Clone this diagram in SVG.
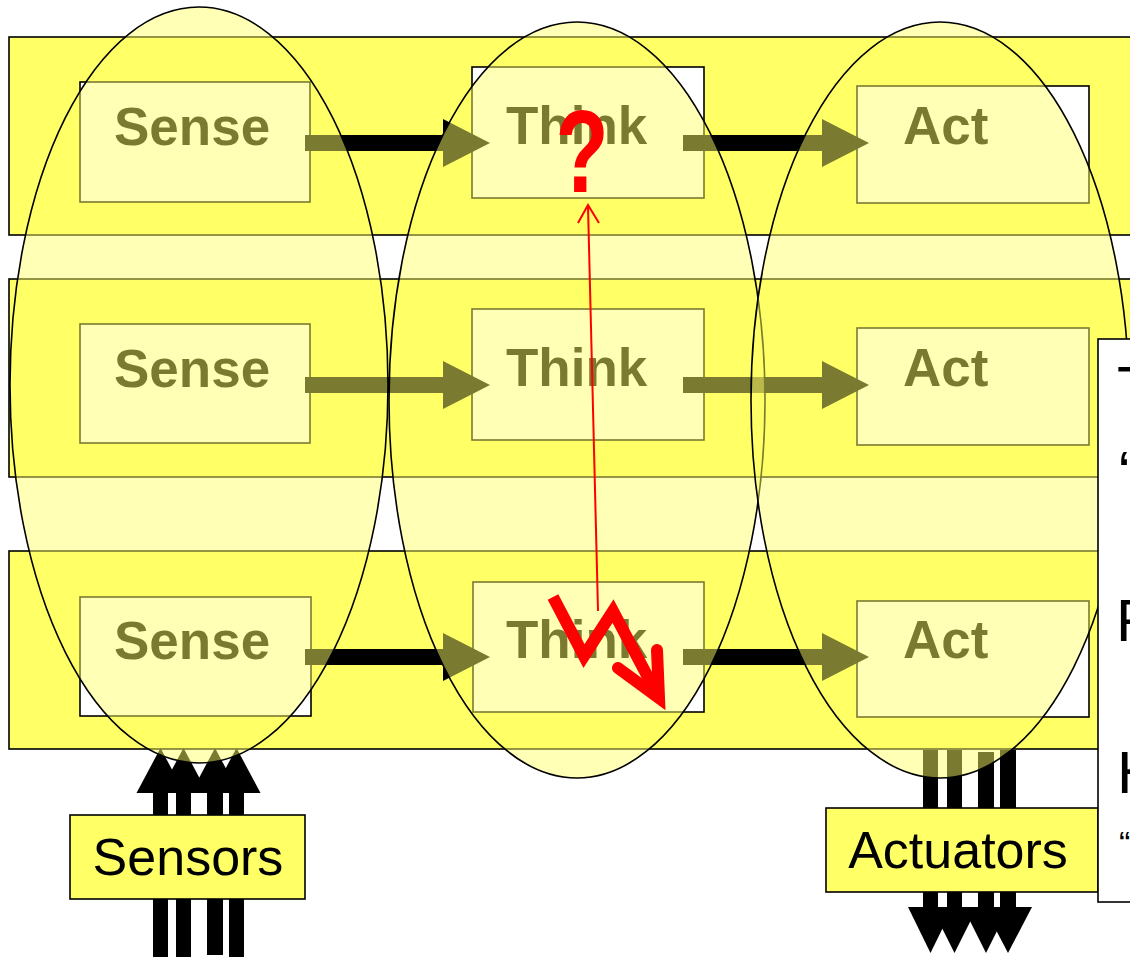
<svg xmlns="http://www.w3.org/2000/svg" width="1130" height="957" viewBox="0 0 1130 957">
<style>
.band{fill:#FFFF66;stroke:#000;stroke-width:1.6}
.box{fill:#fff;stroke:#000;stroke-width:1.6}
.lbl{font-family:"Liberation Sans",Arial,sans-serif;font-weight:bold;font-size:53px;fill:#000}
.arr{fill:#000}
.ell{fill:#FFFF66;fill-opacity:0.48;stroke:#000;stroke-width:1.6}
.io{fill:#FFFF66;stroke:#000;stroke-width:1.6}
.iot{font-family:"Liberation Sans",Arial,sans-serif;font-size:52px;fill:#000;text-anchor:middle}
.panel{fill:#fff;stroke:#000;stroke-width:1.6}
.pt{font-family:"Liberation Sans",Arial,sans-serif;font-size:60px;fill:#000}
.red{fill:none;stroke:#FF0000}
</style>
<rect width="1130" height="957" fill="#fff"/>
<g id="band1"><rect class="band" x="9" y="37" width="1130" height="198"/></g>
<g id="band2"><rect class="band" x="9" y="279" width="1130" height="198"/></g>
<g id="band3"><rect class="band" x="9" y="551" width="1130" height="198"/></g>

<g id="sense1"><rect class="box" x="80" y="82" width="230" height="120"/><text class="lbl" x="114" y="145">Sense</text></g>
<g id="think1"><rect class="box" x="472" y="67" width="232" height="131"/><text class="lbl" x="506" y="144">Think</text></g>
<g id="act1"><rect class="box" x="857" y="86" width="232" height="117"/><text class="lbl" x="903" y="144">Act</text></g>

<g id="sense2"><rect class="box" x="80" y="324" width="230" height="119"/><text class="lbl" x="114" y="387">Sense</text></g>
<g id="think2"><rect class="box" x="472" y="309" width="232" height="131"/><text class="lbl" x="506" y="386">Think</text></g>
<g id="act2"><rect class="box" x="857" y="328" width="232" height="117"/><text class="lbl" x="903" y="386">Act</text></g>

<g id="sense3"><rect class="box" x="80" y="597" width="231" height="119"/><text class="lbl" x="114" y="659">Sense</text></g>
<g id="think3"><rect class="box" x="473" y="582" width="231" height="130"/><text class="lbl" x="506" y="658">Think</text></g>
<g id="act3"><rect class="box" x="857" y="601" width="232" height="116"/><text class="lbl" x="903" y="658">Act</text></g>

<g id="connectors" class="arr">
<path d="M305,135H443V119L490,143L443,167V151H305Z"/>
<path d="M683,135H822V119L869,143L822,167V151H683Z"/>
<path d="M305,377H443V361L490,385L443,409V393H305Z"/>
<path d="M683,377H822V361L869,385L822,409V393H683Z"/>
<path d="M305,649H443V633L490,657L443,681V665H305Z"/>
<path d="M683,649H822V633L869,657L822,681V665H683Z"/>
<g id="sensor-arrows">
<rect x="153" y="790" width="15" height="170"/>
<rect x="176" y="790" width="15" height="170"/>
<rect x="207" y="790" width="16" height="165"/>
<rect x="229" y="790" width="15" height="170"/>
<path d="M136.5,793L160.5,748L184.5,793Z"/>
<path d="M159.5,793L183.5,748L207.5,793Z"/>
<path d="M191,793L215,748L239,793Z"/>
<path d="M212.5,793L236.5,748L260.5,793Z"/>
</g>
<g id="actuator-arrows">
<rect x="923" y="750" width="15" height="160"/>
<rect x="947" y="750" width="15" height="160"/>
<rect x="978" y="752" width="16" height="158"/>
<rect x="1000" y="750" width="16" height="160"/>
<path d="M908,907L930.5,953L953,907Z"/>
<path d="M931.5,907L954.5,953L977.5,907Z"/>
<path d="M963,907L986,953L1009,907Z"/>
<path d="M984,907L1008,953L1032,907Z"/>
</g>
</g>

<g id="ellipses">
<ellipse class="ell" cx="199" cy="385" rx="189" ry="378"/>
<ellipse class="ell" cx="577" cy="400" rx="188" ry="378"/>
<ellipse class="ell" cx="940" cy="400" rx="189" ry="378"/>
</g>

<g id="sensors"><rect class="io" x="70" y="815" width="235" height="84"/><text class="iot" x="188" y="875">Sensors</text></g>
<g id="actuators"><rect class="io" x="826" y="808" width="272" height="84"/><text class="iot" x="958" y="868">Actuators</text></g>

<g id="panel">
<rect class="panel" x="1098" y="339" width="60" height="563"/>
<text class="pt" x="1117" y="408">T</text>
<text class="pt" x="1119" y="493">“</text>
<text class="pt" x="1116" y="641">R</text>
<text class="pt" x="1117" y="793">H</text>
<text class="pt" x="1119" y="855" style="font-size:34px">“</text>
</g>

<g id="annotations">
<text x="0" y="0" transform="translate(582,192) scale(0.75,1)" style="font-family:'Liberation Sans',Arial,sans-serif;font-weight:bold;font-size:116px;fill:#FF0000;text-anchor:middle">?</text>
<line class="red" x1="598" y1="611" x2="588" y2="206" stroke-width="2"/>
<polyline class="red" points="578,223 588,205 599,223" stroke-width="2"/>
<polyline class="red" points="553,597 584,656 613,611 659,698" stroke-width="12" stroke-linejoin="miter"/>
<polyline class="red" points="657,650 659,698 618,668" stroke-width="12" stroke-linecap="round" stroke-linejoin="miter"/>
</g>
</svg>
